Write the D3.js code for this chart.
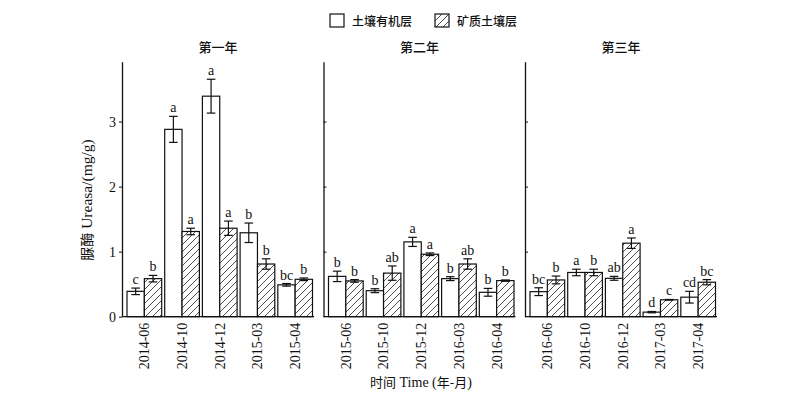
<!DOCTYPE html>
<html>
<head>
<meta charset="utf-8">
<script src="https://cdn.jsdelivr.net/npm/d3@7/dist/d3.min.js"></script>
<style>
  html, body { margin: 0; padding: 0; background: #fff; }
  svg { display: block; }
  .serif { font-family: "Liberation Serif", "Times New Roman", serif; }
  .cjk { font-family: "Noto Sans CJK SC", sans-serif; }
</style>
</head>
<body>
<svg id="chart" width="800" height="395"></svg>
<script>
// ---------- data ----------
const panelTitles = ["第一年", "第二年", "第三年"];
const categories = [
  ["2014-06", "2014-10", "2014-12", "2015-03", "2015-04"],
  ["2015-06", "2015-10", "2015-12", "2016-03", "2016-04"],
  ["2016-06", "2016-10", "2016-12", "2017-03", "2017-04"]
];
const seriesNames = ["土壤有机层", "矿质土壤层"];
const organic    = [0.39, 2.88, 3.39, 1.29, 0.49,  0.62, 0.40, 1.15, 0.585, 0.375,  0.385, 0.68, 0.59, 0.07, 0.30];
const organicErr = [0.05, 0.20, 0.26, 0.15, 0.02,  0.08, 0.03, 0.07, 0.03, 0.06,  0.06, 0.05, 0.03, 0.01, 0.09];
const mineral    = [0.585, 1.31, 1.36, 0.81, 0.575,  0.55, 0.67, 0.96, 0.81, 0.555,  0.565, 0.68, 1.13, 0.26, 0.53];
const mineralErr = [0.05, 0.05, 0.11, 0.08, 0.02,  0.02, 0.11, 0.02, 0.08, 0.01,  0.06, 0.05, 0.08, 0.005, 0.04];
const organicSig = ["c", "a", "a", "b", "bc",  "b", "b", "a", "b", "b",  "bc", "a", "ab", "d", "cd"];
const mineralSig = ["b", "a", "a", "b", "b",  "b", "ab", "a", "ab", "b",  "b", "b", "a", "c", "bc"];
const yTicks = [0, 1, 2, 3];
const yTitleCJK = "脲酶";
const yTitleLatin = " Ureasa/(mg/g)";
const xTitleCJK1 = "时间";
const xTitleLatin = " Time (";
const xTitleCJK2 = "年-月";

// ---------- layout ----------
const svg = d3.select("#chart");
const y = d3.scaleLinear().domain([0, 3.92]).range([316.7, 61.7]);
const panelX = [122, 323.5, 525];
const panelW = 192;

// hatch pattern
const defs = svg.append("defs");
const pat = defs.append("pattern")
  .attr("id", "hatch").attr("patternUnits", "userSpaceOnUse")
  .attr("width", 7).attr("height", 7);
pat.append("rect").attr("width", 7).attr("height", 7).attr("fill", "#fff");
pat.append("path").attr("d", "M-1,1 L1,-1 M0,7 L7,0 M6,8 L8,6")
  .attr("stroke", "#222").attr("stroke-width", 0.8);

const series = [
  { vals: organic, err: organicErr, sig: organicSig, fill: "#fff" },
  { vals: mineral, err: mineralErr, sig: mineralSig, fill: "url(#hatch)" }
];

panelTitles.forEach((title, p) => {
  const x0 = panelX[p];
  const g = svg.append("g");
  const xb = d3.scaleBand().domain(categories[p])
    .range([x0 + 5, x0 + 190.5]).paddingInner(0.08).paddingOuter(0);
  const xs = d3.scaleBand().domain([0, 1]).range([0, xb.bandwidth()]);

  // panel title
  g.append("text").attr("class", "cjk")
    .attr("x", x0 + panelW / 2).attr("y", 52)
    .attr("text-anchor", "middle").attr("font-size", 13).attr("font-weight", 500)
    .attr("fill", "#111").text(title);

  // bars
  categories[p].forEach((cat, i) => {
    const idx = p * 5 + i;
    series.forEach((s, k) => {
      const bx = xb(cat) + xs(k);
      const bw = xs.bandwidth();
      const v = s.vals[idx], e = s.err[idx];
      g.append("rect")
        .attr("x", bx).attr("y", y(v))
        .attr("width", bw).attr("height", y(0) - y(v))
        .attr("fill", s.fill).attr("stroke", "#111").attr("stroke-width", 1.2);
      const cx = bx + bw / 2;
      const eg = g.append("g").attr("stroke", "#111").attr("stroke-width", 1.2);
      eg.append("line").attr("x1", cx).attr("x2", cx).attr("y1", y(v + e)).attr("y2", y(v - e));
      eg.append("line").attr("x1", cx - 4.3).attr("x2", cx + 4.3).attr("y1", y(v + e)).attr("y2", y(v + e));
      eg.append("line").attr("x1", cx - 4.3).attr("x2", cx + 4.3).attr("y1", y(v - e)).attr("y2", y(v - e));
      g.append("text").attr("class", "serif")
        .attr("x", cx).attr("y", y(v + e) - 4)
        .attr("text-anchor", "middle").attr("font-size", 14)
        .attr("fill", "#111").text(s.sig[idx]);
    });
  });

  // y axis
  const yAxis = p === 0
    ? d3.axisLeft(y).tickValues(yTicks).tickSize(3).tickSizeOuter(0).tickFormat(d3.format("d"))
    : d3.axisRight(y).tickValues(yTicks.slice(1)).tickSize(3).tickSizeOuter(0).tickFormat("");
  const ya = g.append("g").attr("transform", `translate(${x0},0)`).call(yAxis);
  ya.select(".domain").attr("stroke", "#111").attr("stroke-width", 1.3);
  ya.selectAll(".tick line").attr("stroke", "#111").attr("stroke-width", 1);
  ya.selectAll(".tick text").attr("class", "serif").attr("font-size", 14)
    .attr("fill", "#111").attr("x", -6);

  // x axis
  const xa = g.append("g").attr("transform", `translate(0,${y(0)})`)
    .call(d3.axisBottom(xb).tickSize(0).tickSizeOuter(0));
  xa.select(".domain").attr("d", `M${x0},0H${x0 + panelW}`)
    .attr("stroke", "#111").attr("stroke-width", 1.3);
  xa.selectAll(".tick text").attr("class", "serif").attr("font-size", 14)
    .attr("fill", "#111")
    .attr("transform", "rotate(-90)")
    .attr("text-anchor", "end").attr("x", -6).attr("y", 0).attr("dy", "0.35em");
});

// y title
const yt = svg.append("text")
  .attr("transform", "translate(92,200) rotate(-90)")
  .attr("text-anchor", "middle").attr("font-size", 14).attr("fill", "#111");
yt.append("tspan").attr("class", "cjk").text(yTitleCJK);
yt.append("tspan").attr("class", "serif").attr("font-size", 15.5).text(yTitleLatin);

// x title
const xt = svg.append("text").attr("x", 421).attr("y", 387)
  .attr("text-anchor", "middle").attr("font-size", 13).attr("fill", "#111");
xt.append("tspan").attr("class", "cjk").text(xTitleCJK1);
xt.append("tspan").attr("class", "serif").attr("font-size", 14).text(xTitleLatin);
xt.append("tspan").attr("class", "cjk").text(xTitleCJK2);
xt.append("tspan").attr("class", "serif").attr("font-size", 14).text(")");

// legend
const legendX = [330, 435];
seriesNames.forEach((name, k) => {
  const lg = svg.append("g").attr("transform", `translate(${legendX[k]},14)`);
  lg.append("rect").attr("width", 14).attr("height", 13)
    .attr("fill", series[k].fill).attr("stroke", "#111").attr("stroke-width", 1.2);
  lg.append("text").attr("class", "cjk").attr("x", 22).attr("y", 11.5)
    .attr("font-size", 12).attr("font-weight", 500).attr("fill", "#111").text(name);
});
</script>
</body>
</html>
